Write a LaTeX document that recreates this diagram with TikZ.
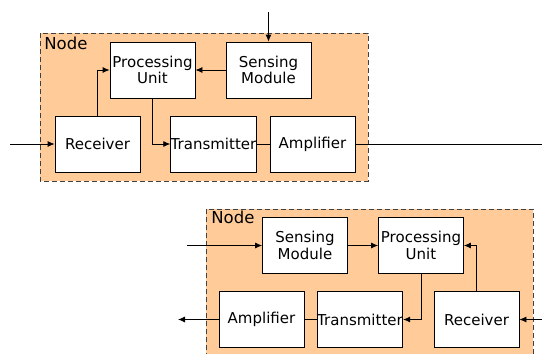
\documentclass[tikz,border=0pt]{standalone}
\usepackage{fontspec}
\setmainfont{DejaVu Sans}
\usepackage{tikz}
\usetikzlibrary{arrows.meta}
\usetikzlibrary{positioning}
\definecolor{peach}{RGB}{255,204,153}
\definecolor{dashgray}{RGB}{64,64,64}
\tikzstyle{unit}=[rectangle,draw=black,fill=white,inner sep=0pt,minimum width=85pt,minimum height=56pt,align=center,font=\fontsize{15}{16.7}\selectfont]
\tikzstyle{nodebox}=[draw=dashgray,fill=peach,dash pattern=on 5pt off 3pt]
\tikzstyle{tag}=[anchor=north west,inner sep=0pt,font=\fontsize{16.5}{18}\selectfont]
\tikzset{every picture/.style={
    line width=0.8
  }
}

\begin{document}
\begin{tikzpicture}[x=1pt,y=-1pt,>={Latex[length=7pt,width=6pt]}]
        \useasboundingbox (0,0) rectangle (542,354);
        % upper node
        \draw[nodebox] (40,33) rectangle (368,181);
        \node[tag] at (44,37) (tag1) {Node};
        \node[unit] at (152.5,70) (pu1) {Processing\\Unit};
        \node[unit] at (268.5,70) (sm1) {Sensing\\Module};
        \node[unit] at (97.5,144) (rx1) {Receiver};
        \node[unit] at (213.5,144) (tx1) {Transmitter};
        \node[unit] at (312.5,144) (amp1) {Amplifier};
        \coordinate (in1) at (10,144);
        \coordinate (sin1) at (268.5,12);
        \coordinate (out1) at (542,144);
        \draw[->] (in1) -- (rx1);
        \draw[->] (sin1) -- (sm1);
        \draw[->] (rx1.north) |- (pu1.west);
        \draw[->] (sm1) -- (pu1);
        \draw[->] (pu1.south) |- (tx1.west);
        \draw (tx1) -- (amp1);
        \draw (amp1) -- (out1);
        % lower node
        \draw[nodebox] (206,209) rectangle (533,362);
        \node[tag] at (211,211) (tag2) {Node};
        \node[unit] at (305,245.5) (sm2) {Sensing\\Module};
        \node[unit] at (421,245.5) (pu2) {Processing\\Unit};
        \node[unit] at (261.5,319.5) (amp2) {Amplifier};
        \node[unit] at (360,319.5) (tx2) {Transmitter};
        \node[unit] at (476.5,319.5) (rx2) {Receiver};
        \coordinate (in2) at (187,245.5);
        \coordinate (in3) at (542,319.5);
        \coordinate (out2) at (178,319.5);
        \draw[->] (in2) -- (sm2);
        \draw[->] (sm2) -- (pu2);
        \draw[->] (rx2.north) |- (pu2.east);
        \draw[->] (pu2.south) |- (tx2.east);
        \draw (tx2) -- (amp2);
        \draw[->] (amp2) -- (out2);
        \draw[->] (in3) -- (rx2);
      \end{tikzpicture}
\end{document}
